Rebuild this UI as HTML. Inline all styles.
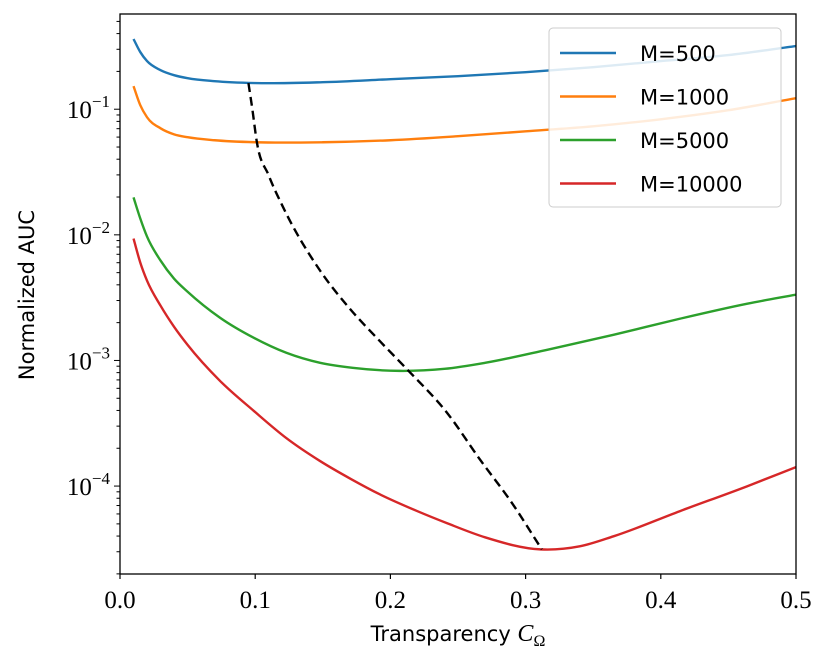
<!DOCTYPE html>
<html><head><meta charset="utf-8"><style>
body{margin:0;background:#fff}
svg text{fill:#000}
.serif{font-family:"Liberation Serif","DejaVu Serif",serif;font-size:25px}
.sans{font-family:"DejaVu Sans","Liberation Sans",sans-serif;font-size:21px}
</style></head><body>
<svg id="chart" width="830" height="665" xmlns="http://www.w3.org/2000/svg">
<g id="plot"></g>
</svg>
<script>
const xBlue = [0.01,0.015,0.02,0.03,0.04,0.05,0.07,0.1,0.15,0.2,0.25,0.3,0.35,0.4,0.45,0.5];
const logM500 = [-0.441,-0.545,-0.617,-0.689,-0.729,-0.753,-0.777,-0.792,-0.785,-0.761,-0.737,-0.705,-0.665,-0.617,-0.569,-0.497];
const logM1000 = [-0.816,-0.968,-1.064,-1.152,-1.200,-1.223,-1.247,-1.263,-1.263,-1.247,-1.215,-1.176,-1.136,-1.080,-1.008,-0.912];
const xGreen = [0.01,0.015,0.02,0.03,0.04,0.05,0.074,0.099,0.123,0.148,0.172,0.207,0.24,0.27,0.316,0.365,0.414,0.464,0.5];
const logM5000 = [-1.702,-1.870,-2.014,-2.205,-2.349,-2.453,-2.660,-2.820,-2.939,-3.019,-3.059,-3.083,-3.067,-3.019,-2.915,-2.796,-2.668,-2.548,-2.476];
const xRed = [0.01,0.015,0.02,0.03,0.04,0.05,0.074,0.099,0.123,0.148,0.171,0.192,0.22,0.242,0.27,0.311,0.34,0.365,0.414,0.464,0.5];
const logM10000 = [-2.030,-2.221,-2.365,-2.564,-2.732,-2.876,-3.163,-3.402,-3.618,-3.801,-3.945,-4.065,-4.200,-4.296,-4.408,-4.504,-4.480,-4.400,-4.200,-4.001,-3.849];
const xOpt = [0.095,0.098,0.101,0.11,0.12,0.148,0.17,0.192,0.212,0.242,0.266,0.29,0.312];
const logOpt = [-0.792,-1.008,-1.247,-1.527,-1.766,-2.285,-2.588,-2.844,-3.067,-3.418,-3.785,-4.136,-4.504];
const xTicks = [0,0.1,0.2,0.3,0.4,0.5];
const xTickLabels = ["0.0","0.1","0.2","0.3","0.4","0.5"];
const yDecades = [-1,-2,-3,-4];
const legendLabels = ["M=500","M=1000","M=5000","M=10000"];
const colors = ["#1f77b4","#ff7f0e","#2ca02c","#d62728"];

const L=120,R=796,T=14,B=574;
const logTop=-0.242, logBot=-4.70;
const sx=x=>L+(x-0)/(0.5-0)*(R-L);
const sy=l=>T+(logTop-l)/(logTop-logBot)*(B-T);
const NS="http://www.w3.org/2000/svg";
const svg=document.getElementById('chart');
const plot=document.getElementById('plot');
function mk(tag,attrs,parent){const e=document.createElementNS(NS,tag);for(const k in attrs)e.setAttribute(k,attrs[k]);(parent||svg).appendChild(e);return e;}
function smooth(xs,ys){
  const p=xs.map((x,i)=>[sx(x),sy(ys[i])]);
  const n=p.length;
  const s=[];for(let i=0;i<n-1;i++)s.push((p[i+1][1]-p[i][1])/(p[i+1][0]-p[i][0]));
  const m=p.map((_,i)=>i===0?s[0]:i===n-1?s[n-2]:(s[i-1]*(p[i+1][0]-p[i][0])+s[i]*(p[i][0]-p[i-1][0]))/(p[i+1][0]-p[i-1][0]));
  let d=`M${p[0][0]},${p[0][1]}`;
  for(let i=0;i<n-1;i++){
    const h=(p[i+1][0]-p[i][0])/3;
    d+=`C${p[i][0]+h},${p[i][1]+m[i]*h} ${p[i+1][0]-h},${p[i+1][1]-m[i+1]*h} ${p[i+1][0]},${p[i+1][1]}`;
  }
  return d;
}
const defs=mk('defs',{});const cp=mk('clipPath',{id:'cp'},defs);mk('rect',{x:L,y:T,width:R-L,height:B-T},cp);
const series=[[xBlue,logM500],[xBlue,logM1000],[xGreen,logM5000],[xRed,logM10000]];
series.forEach((s,i)=>{
  const path=mk('path',{d:smooth(s[0],s[1]),fill:'none',stroke:colors[i],'stroke-width':2.4,'clip-path':'url(#cp)'},plot);
  
  
});
const opt=mk('path',{d:smooth(xOpt,logOpt),fill:'none',stroke:'#000','stroke-width':2.4,'stroke-dasharray':'9,5'},plot);


const frame=mk('rect',{x:L,y:T,width:R-L,height:B-T,fill:'none',stroke:'#000','stroke-width':1.3});


xTicks.forEach((v,i)=>{
  const x=sx(v);
  mk('line',{x1:x,x2:x,y1:B,y2:B+5,stroke:'#000','stroke-width':1.2});
  const t=mk('text',{x:x,y:B+34,'text-anchor':'middle',class:'serif'});t.textContent=xTickLabels[i];
  
  
});
for(let d=-5;d<=0;d++){
  for(let m=1;m<10;m++){
    const l=d+Math.log10(m);
    if(l>logTop||l<logBot)continue;
    const y=sy(l);
    mk('line',{x1:L-(m===1?6:3.5),x2:L,y1:y,y2:y,stroke:'#000','stroke-width':1});
  }
}
yDecades.forEach(d=>{
  const y=sy(d);
  const t=mk('text',{x:L-10,y:y+9,'text-anchor':'end',class:'serif'});
  t.innerHTML='10<tspan dy="-11" font-size="17">\u2212'+Math.abs(d)+'</tspan>';
  
  
});
const xt=mk('text',{x:458,y:641,'text-anchor':'middle',class:'sans'});
xt.innerHTML='Transparency <tspan font-family="Liberation Serif,serif" font-style="italic" font-size="24">C</tspan><tspan font-family="Liberation Serif,serif" font-size="16" dy="5">\u03A9</tspan>';


const yt=mk('text',{x:0,y:0,'text-anchor':'middle',class:'sans',transform:'translate(34,295) rotate(-90)'});
yt.textContent='Normalized AUC';


const lg=mk('g',{});


mk('rect',{x:549,y:28,width:232,height:179,rx:4,fill:'#fff','fill-opacity':0.85,stroke:'#ccc','stroke-width':1},lg);
legendLabels.forEach((lab,i)=>{
  const y=53+i*43.5;
  const e=mk('g',{},lg);
  
  
  mk('line',{x1:560,x2:616,y1:y,y2:y,stroke:colors[i],'stroke-width':2.4},e);
  const t=mk('text',{x:640,y:y+8,class:'sans'},e);t.textContent=lab;
});
</script>
</body></html>
